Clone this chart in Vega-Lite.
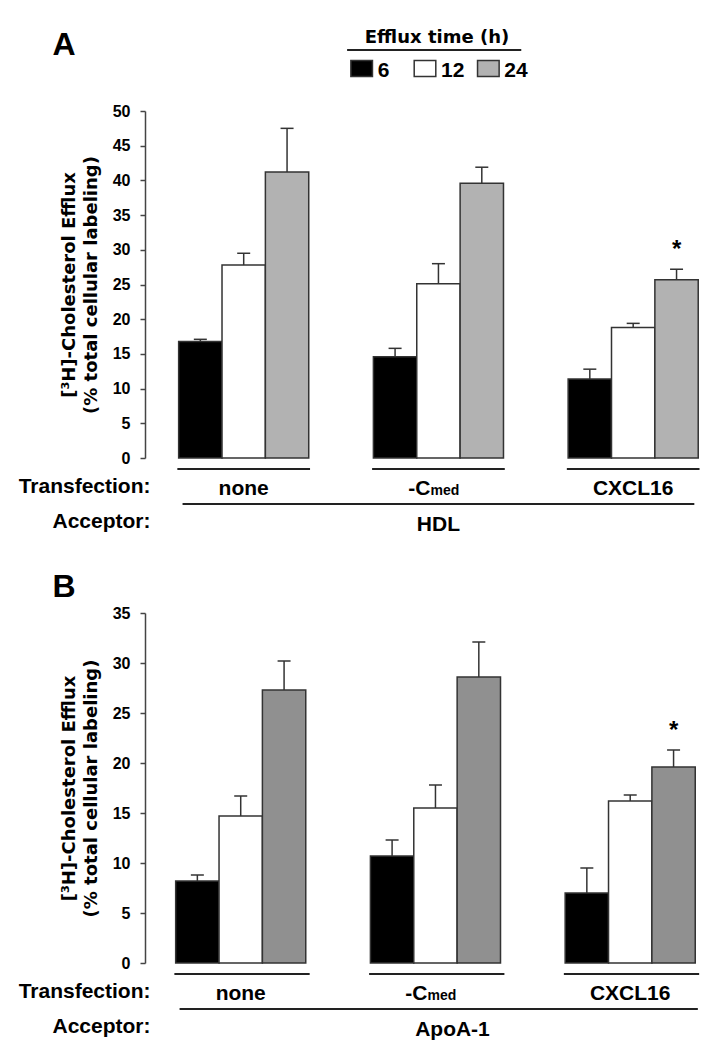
{
  "$schema": "https://vega.github.io/schema/vega-lite/v6.json",
  "padding": {"left": 18, "top": 28, "right": 0, "bottom": 0},
  "spacing": 2,
  "config": {
    "view": {"stroke": null},
    "axis": {"labelFont": "Liberation Sans", "labelFontWeight": "bold", "labelColor": "#000", "titleColor": "#000", "grid": false},
    "axisY": {"labelFontSize": 16, "titleFont": "DejaVu Sans", "titleFontSize": 18, "titleFontWeight": "bold"},
    "text": {"font": "Liberation Sans", "fontWeight": "bold", "color": "#000"}
  },
  "resolve": {"scale": {"x": "independent", "y": "independent", "fill": "independent"}},
  "vconcat": [
    {
      "width": 578, "height": 72.5,
      "layer": [
        {
          "data": {"values": [{"panel": "A", "time": "6"}, {"panel": "A", "time": "12"}, {"panel": "A", "time": "24"}]},
          "mark": {"type": "point", "shape": "M-1.35,-1H1.35V1H-1.35Z", "size": 256, "filled": true, "stroke": "#333", "strokeWidth": 1.5, "opacity": 1},
          "encoding": {
            "x": {"field": "time", "type": "nominal", "scale": {"type": "band", "domain": ["6", "12", "24"], "range": [185, 375], "paddingInner": 0, "paddingOuter": 0}, "axis": null},
            "y": {"field": "panel", "type": "nominal", "bandPosition": 0.559, "scale": {"type": "band", "domain": ["A"], "paddingInner": 0, "paddingOuter": 0},
                  "axis": {"title": null, "ticks": false, "tickSize": 0, "domain": false, "labelFontSize": 32, "labelPadding": 70, "labelOffset": -19}},
            "fill": {"field": "time", "type": "nominal", "scale": {"domain": ["6", "12", "24"], "range": ["#000000", "#ffffff", "#b2b2b2"]}, "legend": null}
          }
        },
        {
          "data": {"values": [{"panel": "A", "time": "6"}, {"panel": "A", "time": "12"}, {"panel": "A", "time": "24"}]},
          "mark": {"type": "text", "align": "left", "baseline": "alphabetic", "dx": 16, "fontSize": 21},
          "encoding": {
            "x": {"field": "time", "type": "nominal"},
            "y": {"field": "panel", "type": "nominal", "bandPosition": 0.676},
            "text": {"field": "time"}
          }
        },
        {
          "data": {"values": [{"panel": "A", "time": "12"}]},
          "mark": {"type": "text", "text": "Efflux time (h)", "font": "DejaVu Sans", "fontSize": 18, "align": "center", "baseline": "alphabetic", "dx": 12},
          "encoding": {
            "x": {"field": "time", "type": "nominal"},
            "y": {"field": "panel", "type": "nominal", "bandPosition": 0.207}
          }
        },
        {
          "data": {"values": [{"panel": "A", "from": "6", "to": "24"}]},
          "mark": {"type": "rule", "color": "#222", "strokeWidth": 2},
          "encoding": {
            "x": {"field": "from", "type": "nominal", "bandPosition": 0.27},
            "x2": {"field": "to", "bandPosition": 1.02},
            "y": {"field": "panel", "type": "nominal", "bandPosition": 0.303}
          }
        }
      ]
    },
    {
      "width": 578, "height": 347,
      "data": {"values": [
        {"group": "none", "time": "6", "value": 16.8, "upper": 17.1, "sig": ""},
        {"group": "none", "time": "12", "value": 27.8, "upper": 29.5, "sig": ""},
        {"group": "none", "time": "24", "value": 41.2, "upper": 47.5, "sig": ""},
        {"group": "-Cmed", "time": "6", "value": 14.6, "upper": 15.8, "sig": ""},
        {"group": "-Cmed", "time": "12", "value": 25.1, "upper": 28.0, "sig": ""},
        {"group": "-Cmed", "time": "24", "value": 39.6, "upper": 41.9, "sig": ""},
        {"group": "CXCL16", "time": "6", "value": 11.4, "upper": 12.8, "sig": ""},
        {"group": "CXCL16", "time": "12", "value": 18.8, "upper": 19.4, "sig": ""},
        {"group": "CXCL16", "time": "24", "value": 25.7, "upper": 27.2, "sig": "*"}
      ]},
      "encoding": {
        "x": {"field": "group", "type": "nominal", "scale": {"type": "band", "domain": ["none", "-Cmed", "CXCL16"], "paddingInner": 0.332, "paddingOuter": 0.15, "align": 0.576}, "axis": null},
        "xOffset": {"field": "time", "type": "nominal", "scale": {"domain": ["6", "12", "24"], "paddingInner": 0, "paddingOuter": 0}}
      },
      "layer": [
        {
          "mark": {"type": "bar", "stroke": "#333", "strokeWidth": 1.5},
          "encoding": {
            "y": {"field": "value", "type": "quantitative", "scale": {"domain": [0, 50]},
                  "axis": {"values": [0, 5, 10, 15, 20, 25, 30, 35, 40, 45, 50], "tickSize": 5, "tickColor": "#444", "tickWidth": 1.5, "domainColor": "#444", "domainWidth": 1.5,
                           "labelFontSize": 16, "labelPadding": 10, "labelFlush": false, "labelOverlap": false,
                           "title": ["[³H]-Cholesterol Efflux", "(%  total cellular labeling)"], "titleFont": "DejaVu Sans", "titleFontSize": 18, "titleFontWeight": "bold", "titlePadding": 12, "titleLineHeight": 22}},
            "fill": {"field": "time", "type": "nominal", "scale": {"domain": ["6", "12", "24"], "range": ["#000000", "#ffffff", "#b2b2b2"]}, "legend": null}
          }
        },
        {
          "mark": {"type": "rule", "color": "#333", "strokeWidth": 1.5},
          "encoding": {"y": {"field": "value", "type": "quantitative",
                  "axis": {"values": [0, 5, 10, 15, 20, 25, 30, 35, 40, 45, 50], "tickSize": 5, "tickColor": "#444", "tickWidth": 1.5, "domainColor": "#444", "domainWidth": 1.5,
                           "labelFontSize": 16, "labelPadding": 10, "labelFlush": false, "labelOverlap": false,
                           "title": ["[³H]-Cholesterol Efflux", "(%  total cellular labeling)"], "titleFont": "DejaVu Sans", "titleFontSize": 18, "titleFontWeight": "bold", "titlePadding": 12, "titleLineHeight": 22}},
                       "y2": {"field": "upper"}}
        },
        {
          "mark": {"type": "tick", "color": "#333", "thickness": 1.5, "size": 13, "opacity": 1},
          "encoding": {"y": {"field": "upper", "type": "quantitative",
                  "axis": {"values": [0, 5, 10, 15, 20, 25, 30, 35, 40, 45, 50], "tickSize": 5, "tickColor": "#444", "tickWidth": 1.5, "domainColor": "#444", "domainWidth": 1.5,
                           "labelFontSize": 16, "labelPadding": 10, "labelFlush": false, "labelOverlap": false,
                           "title": ["[³H]-Cholesterol Efflux", "(%  total cellular labeling)"], "titleFont": "DejaVu Sans", "titleFontSize": 18, "titleFontWeight": "bold", "titlePadding": 12, "titleLineHeight": 22}}}
        },
        {
          "transform": [{"filter": "datum.sig == '*'"}],
          "mark": {"type": "text", "fontSize": 24, "dy": -12, "baseline": "alphabetic"},
          "encoding": {"y": {"field": "upper", "type": "quantitative",
                  "axis": {"values": [0, 5, 10, 15, 20, 25, 30, 35, 40, 45, 50], "tickSize": 5, "tickColor": "#444", "tickWidth": 1.5, "domainColor": "#444", "domainWidth": 1.5,
                           "labelFontSize": 16, "labelPadding": 10, "labelFlush": false, "labelOverlap": false,
                           "title": ["[³H]-Cholesterol Efflux", "(%  total cellular labeling)"], "titleFont": "DejaVu Sans", "titleFontSize": 18, "titleFontWeight": "bold", "titlePadding": 12, "titleLineHeight": 22}},
                       "text": {"field": "sig"}}
        }
      ]
    },
    {
      "width": 578, "height": 70,
      "layer": [
        {
          "data": {"values": [{"group": "none", "row": "Transfection:"}, {"group": "-Cmed", "row": "Transfection:"}, {"group": "CXCL16", "row": "Transfection:"}]},
          "mark": {"type": "rule", "color": "#222", "strokeWidth": 2},
          "encoding": {
            "x": {"field": "group", "type": "nominal", "bandPosition": -0.01, "scale": {"type": "band", "domain": ["none", "-Cmed", "CXCL16"], "paddingInner": 0.332, "paddingOuter": 0.15, "align": 0.576}, "axis": null},
            "x2": {"field": "group", "bandPosition": 1.01},
            "y": {"field": "row", "type": "nominal", "bandPosition": 0, "scale": {"type": "band", "domain": ["Transfection:", "Acceptor:"], "paddingInner": 0, "paddingOuter": 0},
                  "axis": {"title": null, "ticks": false, "tickSize": 0, "domain": false, "labelFontSize": 21, "labelPadding": -5}}
          }
        },
        {
          "data": {"values": [{"row": "Acceptor:", "from": "none", "to": "CXCL16"}]},
          "mark": {"type": "rule", "color": "#222", "strokeWidth": 2},
          "encoding": {
            "x": {"field": "from", "type": "nominal", "bandPosition": 0.03},
            "x2": {"field": "to", "bandPosition": 0.97},
            "y": {"field": "row", "type": "nominal", "bandPosition": 0}
          }
        },
        {
          "data": {"values": [{"group": "none", "row": "Transfection:", "label": "none"}, {"group": "CXCL16", "row": "Transfection:", "label": "CXCL16"}]},
          "mark": {"type": "text", "fontSize": 21, "baseline": "alphabetic", "dy": 8},
          "encoding": {"x": {"field": "group", "type": "nominal"}, "y": {"field": "row", "type": "nominal"}, "text": {"field": "label"}}
        },
        {
          "data": {"values": [{"group": "-Cmed", "row": "Transfection:", "label": "-C"}]},
          "mark": {"type": "text", "fontSize": 21, "baseline": "alphabetic", "dy": 8, "align": "right", "dx": -8},
          "encoding": {"x": {"field": "group", "type": "nominal"}, "y": {"field": "row", "type": "nominal"}, "text": {"field": "label"}}
        },
        {
          "data": {"values": [{"group": "-Cmed", "row": "Transfection:", "label": "med"}]},
          "mark": {"type": "text", "fontSize": 14, "baseline": "alphabetic", "dy": 8, "align": "left", "dx": -8},
          "encoding": {"x": {"field": "group", "type": "nominal"}, "y": {"field": "row", "type": "nominal"}, "text": {"field": "label"}}
        },
        {
          "data": {"values": [{"group": "-Cmed", "row": "Acceptor:", "label": "HDL"}]},
          "mark": {"type": "text", "fontSize": 21, "baseline": "alphabetic", "dy": 9},
          "encoding": {"x": {"field": "group", "type": "nominal"}, "y": {"field": "row", "type": "nominal"}, "text": {"field": "label"}}
        }
      ]
    },
    {
      "width": 578, "height": 62,
      "data": {"values": [{"panel": "B"}]},
      "mark": {"type": "text", "text": " "},
      "encoding": {
        "y": {"field": "panel", "type": "nominal", "scale": {"type": "band", "domain": ["B"], "paddingInner": 0, "paddingOuter": 0},
              "axis": {"title": null, "ticks": false, "tickSize": 0, "domain": false, "labelFontSize": 32, "labelPadding": 70, "labelOffset": 15}}
      }
    },
    {
      "width": 578, "height": 350,
      "data": {"values": [
        {"group": "none", "time": "6", "value": 8.2, "upper": 8.8, "sig": ""},
        {"group": "none", "time": "12", "value": 14.7, "upper": 16.7, "sig": ""},
        {"group": "none", "time": "24", "value": 27.3, "upper": 30.2, "sig": ""},
        {"group": "-Cmed", "time": "6", "value": 10.7, "upper": 12.3, "sig": ""},
        {"group": "-Cmed", "time": "12", "value": 15.5, "upper": 17.8, "sig": ""},
        {"group": "-Cmed", "time": "24", "value": 28.6, "upper": 32.1, "sig": ""},
        {"group": "CXCL16", "time": "6", "value": 7.0, "upper": 9.5, "sig": ""},
        {"group": "CXCL16", "time": "12", "value": 16.2, "upper": 16.8, "sig": ""},
        {"group": "CXCL16", "time": "24", "value": 19.6, "upper": 21.3, "sig": "*"}
      ]},
      "encoding": {
        "x": {"field": "group", "type": "nominal", "scale": {"type": "band", "domain": ["none", "-Cmed", "CXCL16"], "paddingInner": 0.332, "paddingOuter": 0.15, "align": 0.525}, "axis": null},
        "xOffset": {"field": "time", "type": "nominal", "scale": {"domain": ["6", "12", "24"], "paddingInner": 0, "paddingOuter": 0}}
      },
      "layer": [
        {
          "mark": {"type": "bar", "stroke": "#333", "strokeWidth": 1.5},
          "encoding": {
            "y": {"field": "value", "type": "quantitative", "scale": {"domain": [0, 35]},
                  "axis": {"values": [0, 5, 10, 15, 20, 25, 30, 35], "tickSize": 5, "tickColor": "#444", "tickWidth": 1.5, "domainColor": "#444", "domainWidth": 1.5,
                           "labelFontSize": 16, "labelPadding": 10, "labelFlush": false, "labelOverlap": false,
                           "title": ["[³H]-Cholesterol Efflux", "(%  total cellular labeling)"], "titleFont": "DejaVu Sans", "titleFontSize": 18, "titleFontWeight": "bold", "titlePadding": 12, "titleLineHeight": 22}},
            "fill": {"field": "time", "type": "nominal", "scale": {"domain": ["6", "12", "24"], "range": ["#000000", "#ffffff", "#909090"]}, "legend": null}
          }
        },
        {
          "mark": {"type": "rule", "color": "#333", "strokeWidth": 1.5},
          "encoding": {"y": {"field": "value", "type": "quantitative",
                  "axis": {"values": [0, 5, 10, 15, 20, 25, 30, 35], "tickSize": 5, "tickColor": "#444", "tickWidth": 1.5, "domainColor": "#444", "domainWidth": 1.5,
                           "labelFontSize": 16, "labelPadding": 10, "labelFlush": false, "labelOverlap": false,
                           "title": ["[³H]-Cholesterol Efflux", "(%  total cellular labeling)"], "titleFont": "DejaVu Sans", "titleFontSize": 18, "titleFontWeight": "bold", "titlePadding": 12, "titleLineHeight": 22}},
                       "y2": {"field": "upper"}}
        },
        {
          "mark": {"type": "tick", "color": "#333", "thickness": 1.5, "size": 13, "opacity": 1},
          "encoding": {"y": {"field": "upper", "type": "quantitative",
                  "axis": {"values": [0, 5, 10, 15, 20, 25, 30, 35], "tickSize": 5, "tickColor": "#444", "tickWidth": 1.5, "domainColor": "#444", "domainWidth": 1.5,
                           "labelFontSize": 16, "labelPadding": 10, "labelFlush": false, "labelOverlap": false,
                           "title": ["[³H]-Cholesterol Efflux", "(%  total cellular labeling)"], "titleFont": "DejaVu Sans", "titleFontSize": 18, "titleFontWeight": "bold", "titlePadding": 12, "titleLineHeight": 22}}}
        },
        {
          "transform": [{"filter": "datum.sig == '*'"}],
          "mark": {"type": "text", "fontSize": 24, "dy": -12, "baseline": "alphabetic"},
          "encoding": {"y": {"field": "upper", "type": "quantitative",
                  "axis": {"values": [0, 5, 10, 15, 20, 25, 30, 35], "tickSize": 5, "tickColor": "#444", "tickWidth": 1.5, "domainColor": "#444", "domainWidth": 1.5,
                           "labelFontSize": 16, "labelPadding": 10, "labelFlush": false, "labelOverlap": false,
                           "title": ["[³H]-Cholesterol Efflux", "(%  total cellular labeling)"], "titleFont": "DejaVu Sans", "titleFontSize": 18, "titleFontWeight": "bold", "titlePadding": 12, "titleLineHeight": 22}},
                       "text": {"field": "sig"}}
        }
      ]
    },
    {
      "width": 578, "height": 70,
      "layer": [
        {
          "data": {"values": [{"group": "none", "row": "Transfection:"}, {"group": "-Cmed", "row": "Transfection:"}, {"group": "CXCL16", "row": "Transfection:"}]},
          "mark": {"type": "rule", "color": "#222", "strokeWidth": 2},
          "encoding": {
            "x": {"field": "group", "type": "nominal", "bandPosition": -0.01, "scale": {"type": "band", "domain": ["none", "-Cmed", "CXCL16"], "paddingInner": 0.332, "paddingOuter": 0.15, "align": 0.525}, "axis": null},
            "x2": {"field": "group", "bandPosition": 1.03},
            "y": {"field": "row", "type": "nominal", "bandPosition": 0, "scale": {"type": "band", "domain": ["Transfection:", "Acceptor:"], "paddingInner": 0, "paddingOuter": 0},
                  "axis": {"title": null, "ticks": false, "tickSize": 0, "domain": false, "labelFontSize": 21, "labelPadding": -5}}
          }
        },
        {
          "data": {"values": [{"row": "Acceptor:", "from": "none", "to": "CXCL16"}]},
          "mark": {"type": "rule", "color": "#222", "strokeWidth": 2},
          "encoding": {
            "x": {"field": "from", "type": "nominal", "bandPosition": 0.03},
            "x2": {"field": "to", "bandPosition": 1.02},
            "y": {"field": "row", "type": "nominal", "bandPosition": 0}
          }
        },
        {
          "data": {"values": [{"group": "none", "row": "Transfection:", "label": "none"}, {"group": "CXCL16", "row": "Transfection:", "label": "CXCL16"}]},
          "mark": {"type": "text", "fontSize": 21, "baseline": "alphabetic", "dy": 8},
          "encoding": {"x": {"field": "group", "type": "nominal"}, "y": {"field": "row", "type": "nominal"}, "text": {"field": "label"}}
        },
        {
          "data": {"values": [{"group": "-Cmed", "row": "Transfection:", "label": "-C"}]},
          "mark": {"type": "text", "fontSize": 21, "baseline": "alphabetic", "dy": 8, "align": "right", "dx": -8},
          "encoding": {"x": {"field": "group", "type": "nominal"}, "y": {"field": "row", "type": "nominal"}, "text": {"field": "label"}}
        },
        {
          "data": {"values": [{"group": "-Cmed", "row": "Transfection:", "label": "med"}]},
          "mark": {"type": "text", "fontSize": 14, "baseline": "alphabetic", "dy": 8, "align": "left", "dx": -8},
          "encoding": {"x": {"field": "group", "type": "nominal"}, "y": {"field": "row", "type": "nominal"}, "text": {"field": "label"}}
        },
        {
          "data": {"values": [{"group": "-Cmed", "row": "Acceptor:", "label": "ApoA-1"}]},
          "mark": {"type": "text", "fontSize": 21, "baseline": "alphabetic", "dy": 9, "dx": 17},
          "encoding": {"x": {"field": "group", "type": "nominal"}, "y": {"field": "row", "type": "nominal"}, "text": {"field": "label"}}
        }
      ]
    }
  ]
}
